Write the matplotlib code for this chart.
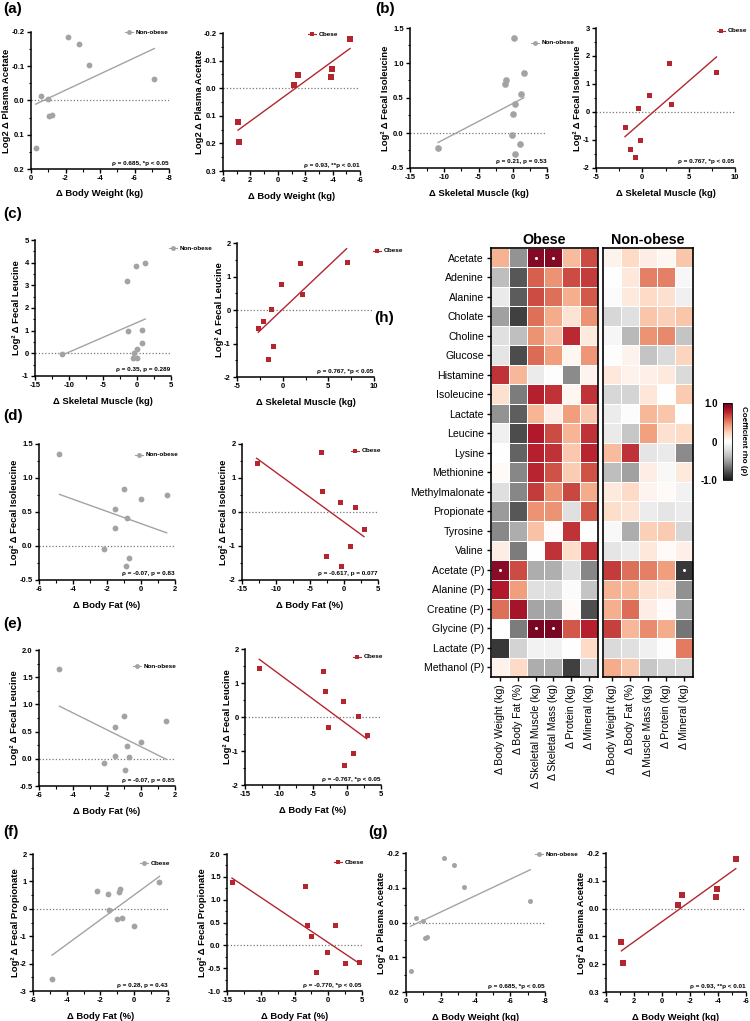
import numpy as np
import matplotlib as mpl
mpl.use('Agg')
import matplotlib.pyplot as plt
from matplotlib.ticker import MultipleLocator, AutoMinorLocator, FormatStrFormatter
from matplotlib.lines import Line2D

plt.rcParams['font.family'] = ['Liberation Sans', 'DejaVu Sans']
plt.rcParams['axes.unicode_minus'] = False

GRAY = '#a3a3a3'
RED = '#b3262e'

# ---- scatter data ----
# (a) / (g)  body weight vs plasma acetate
bw_non = [-0.27, -0.58, -1.0, -1.07, -1.19, -2.17, -2.77, -3.36, -7.15]
acet_non = [0.139, -0.014, -0.005, 0.046, 0.041, -0.185, -0.165, -0.103, -0.062]
bw_obe = [2.9, 2.8, -1.17, -1.46, -3.86, -3.96, -5.27]
acet_obe = [0.121, 0.195, -0.012, -0.049, -0.042, -0.069, -0.178]

# (b) skeletal muscle vs fecal isoleucine
sm_non_b = [-10.9, 0.2, -1.0, -1.15, 1.6, 1.2, 0.35, 0.1, -0.1, 1.05, 0.3]
iso_non_b = [-0.21, 1.35, 0.76, 0.70, 0.85, 0.56, 0.42, 0.27, -0.03, -0.16, -0.30]
sm_obe_b = [-1.87, -1.37, -0.76, -0.25, -0.47, 0.75, 2.87, 3.09, 8.0]
iso_obe_b = [-0.52, -1.31, -1.6, -1.01, 0.13, 0.62, 1.76, 0.3, 1.44]

# (c) skeletal muscle vs fecal leucine
sm_non_c = [-11.0, -1.5, -0.1, 1.2, -1.3, 0.7, 0.75, 0.0, -0.4, -0.6, 0.0]
leu_non_c = [-0.05, 3.2, 3.87, 4.0, 1.0, 1.05, 0.45, 0.2, 0.0, -0.2, -0.2]
sm_obe_c = [-2.67, -2.2, -1.33, -1.1, -1.66, -0.14, 1.9, 2.1, 7.0]
leu_obe_c = [-0.55, -0.32, 0.03, -1.07, -1.46, 0.77, 1.39, 0.47, 1.44]

# (d) body fat vs fecal isoleucine
bf_non_d = [-4.8, -1.53, -1.02, 0.0, 1.51, -0.8, -1.51, -2.19, -0.71, -0.9]
iso_non_d = [1.35, 0.55, 0.84, 0.69, 0.75, 0.41, 0.27, -0.04, -0.17, -0.29]
bf_obe_d = [-12.84, -3.43, -3.28, -0.59, 1.62, 2.94, 0.88, -2.65, -0.4]
iso_obe_d = [1.45, 1.77, 0.63, 0.30, 0.16, -0.5, -1.0, -1.29, -1.59]

# (e) body fat vs fecal leucine
bf_non_e = [-4.8, -1.0, -1.51, 1.49, 0.0, -0.82, -1.51, -0.71, -2.19, -0.92]
leu_non_e = [1.65, 0.79, 0.58, 0.70, 0.31, 0.24, 0.06, 0.03, -0.07, -0.21]
bf_obe_e = [-12.9, -3.53, -3.28, -0.63, 1.57, -2.75, 2.9, 0.93, -0.4]
leu_obe_e = [1.43, 1.36, 0.76, 0.47, 0.04, -0.29, -0.54, -1.05, -1.41]

# (f) body fat vs fecal propionate
bf_non_f = [-4.87, -2.2, -1.55, -1.51, -0.92, -0.82, -1.02, -0.72, -0.03, 1.49]
prop_non_f = [-2.57, 0.66, 0.55, -0.04, 0.63, 0.73, -0.39, -0.35, -0.62, 0.99]
bf_obe_f = [-14.26, -3.46, -3.21, -2.62, 0.99, -0.25, 2.47, 4.5, -1.88]
prop_obe_f = [1.38, 1.30, 0.45, 0.21, 0.45, -0.15, -0.39, -0.36, -0.59]

# ---- heatmap data ----
metabolites = ['Acetate', 'Adenine', 'Alanine', 'Cholate', 'Choline', 'Glucose',
               'Histamine', 'Isoleucine', 'Lactate', 'Leucine', 'Lysine',
               'Methionine', 'Methylmalonate', 'Propionate', 'Tyrosine', 'Valine',
               'Acetate (P)', 'Alanine (P)', 'Creatine (P)', 'Glycine (P)',
               'Lactate (P)', 'Methanol (P)']
obese_cols = ['Δ Body Weight (kg)', 'Δ Body Fat (%)', 'Δ Skeletal Muscle (kg)',
              'Δ Skeletal Mass (kg)', 'Δ Protein (kg)', 'Δ Mineral (kg)']
non_cols = ['Δ Body Weight (kg)', 'Δ Body Fat (%)', 'Δ Muscle Mass (kg)',
            'Δ Protein (kg)', 'Δ Mineral (kg)']

obese_rho = [
    [0.35, -0.55, 0.92, 0.92, 0.32, 0.65],
    [-0.38, -0.76, 0.60, 0.45, 0.65, 0.70],
    [-0.14, -0.75, 0.65, 0.55, 0.36, 0.62],
    [-0.50, -0.85, 0.55, 0.37, 0.15, 0.45],
    [-0.20, -0.37, 0.45, 0.30, 0.75, 0.12],
    [-0.17, -0.80, 0.57, 0.42, 0.05, 0.44],
    [0.72, 0.33, -0.13, -0.01, -0.58, 0.06],
    [0.17, -0.64, 0.78, 0.72, 0.05, 0.72],
    [-0.55, -0.74, 0.34, 0.10, 0.42, 0.27],
    [-0.10, -0.80, 0.80, 0.65, 0.34, 0.72],
    [0.00, -0.72, 0.78, 0.72, 0.27, 0.76],
    [0.03, -0.60, 0.76, 0.64, 0.25, 0.64],
    [-0.21, -0.60, 0.70, 0.46, 0.67, 0.37],
    [-0.52, -0.76, 0.45, 0.45, -0.20, 0.61],
    [-0.59, -0.45, 0.29, 0.02, 0.72, 0.00],
    [0.10, -0.64, 0.00, 0.72, 0.18, 0.71],
    [0.90, 0.65, -0.45, -0.44, -0.20, -0.60],
    [0.80, 0.42, -0.20, -0.21, -0.03, -0.35],
    [0.55, 0.83, -0.48, -0.47, 0.03, -0.79],
    [0.00, -0.64, 0.95, 0.95, 0.62, 0.78],
    [-0.88, -0.27, -0.08, -0.08, 0.00, 0.20],
    [0.07, 0.20, -0.45, -0.45, -0.85, -0.27],
]
non_rho = [
    [0.07, 0.20, 0.10, 0.05, 0.28],
    [0.00, 0.13, 0.50, 0.50, -0.05],
    [-0.03, 0.12, 0.20, 0.17, -0.10],
    [-0.25, -0.20, 0.28, 0.24, 0.28],
    [-0.06, -0.40, 0.45, 0.48, -0.35],
    [-0.01, 0.07, -0.35, -0.23, 0.22],
    [0.13, 0.07, 0.08, 0.12, -0.23],
    [-0.25, -0.26, 0.14, 0.00, 0.26],
    [-0.12, -0.02, 0.33, 0.28, 0.00],
    [-0.14, -0.33, 0.41, 0.17, 0.20],
    [0.32, 0.72, -0.17, -0.14, -0.58],
    [-0.38, -0.50, 0.10, -0.04, 0.12],
    [0.12, 0.20, 0.06, 0.03, -0.08],
    [0.18, 0.15, -0.12, -0.17, -0.13],
    [-0.04, -0.45, 0.24, 0.26, -0.25],
    [-0.17, -0.12, 0.13, 0.03, 0.08],
    [0.70, 0.55, 0.50, 0.42, -0.88],
    [0.35, 0.33, 0.16, 0.14, -0.56],
    [0.36, 0.56, 0.10, 0.02, -0.48],
    [0.68, 0.33, 0.47, 0.37, -0.66],
    [-0.23, -0.20, -0.10, -0.01, 0.52],
    [0.37, 0.28, -0.33, -0.25, -0.24],
]
obese_sig = [(0, 2), (0, 3), (16, 0), (19, 2), (19, 3)]
non_sig = [(16, 4)]

W, H = 750, 1021
fig = plt.figure(figsize=(W / 100, H / 100), dpi=100)


def box(l, t, r, b):
    return [l / W, 1 - b / H, (r - l) / W, (b - t) / H]


def fx(x):
    return x / W


def fy(y):
    return 1 - y / H


def legend_mark(x, y, text, color, marker, ms):
    fig.add_artist(Line2D([fx(x - 4), fx(x + 4)], [fy(y), fy(y)], color=color, lw=0.8))
    fig.add_artist(Line2D([fx(x)], [fy(y)], marker=marker, color=color, ms=ms, mew=0))
    fig.text(fx(x + 7), fy(y), text, fontsize=4.6, fontweight='bold', va='center', ha='left')


def scatter_panel(rect, x, y, grp, xlim, ylim, xstep, ystep, yfmt, xlabel, ylabel,
                  stat, leg, ms):
    ax = fig.add_axes(box(*rect))
    wpx = rect[2] - rect[0]
    hpx = rect[3] - rect[1]
    color = GRAY if grp == 'non' else RED
    marker = 'o' if grp == 'non' else 's'
    ax.plot(x, y, ls='none', marker=marker, ms=ms, color=color, mew=0, zorder=3,
            clip_on=False)
    k, b0 = np.polyfit(x, y, 1)
    xx = np.array([min(x), max(x)])
    ax.plot(xx, k * xx + b0, color=color, lw=1.0, zorder=2)
    ax.axhline(0, color='#7a7a7a', ls=(0, (1, 1.6)), lw=0.9, zorder=1)
    ax.set_xlim(*xlim)
    ax.set_ylim(*ylim)
    ax.xaxis.set_major_locator(MultipleLocator(xstep))
    ax.yaxis.set_major_locator(MultipleLocator(ystep))
    ax.xaxis.set_minor_locator(AutoMinorLocator(2))
    ax.yaxis.set_minor_locator(AutoMinorLocator(2))
    ax.yaxis.set_major_formatter(FormatStrFormatter(yfmt))
    ax.xaxis.set_major_formatter(FormatStrFormatter('%d'))
    for s in ['top', 'right']:
        ax.spines[s].set_visible(False)
    for s in ['left', 'bottom']:
        ax.spines[s].set_linewidth(1.1)
    ax.tick_params(which='major', length=3, width=1.0, labelsize=5.5, pad=1.5)
    ax.tick_params(which='minor', length=1.8, width=0.8)
    for lab in ax.get_xticklabels() + ax.get_yticklabels():
        lab.set_fontweight('bold')
    ax.set_xlabel(xlabel, fontsize=6.8, fontweight='bold')
    ax.xaxis.label.set_va('center')
    ax.xaxis.set_label_coords(0.5, -25 / hpx)
    ax.set_ylabel(ylabel, fontsize=6.8, fontweight='bold')
    ax.yaxis.label.set_va('center')
    # label sits further out when tick labels carry a decimal
    off = 24 if '.1' in yfmt else 18
    ax.yaxis.set_label_coords(-off / wpx, 0.5)
    ax.text(0.995, 6 / hpx, stat, transform=ax.transAxes, ha='right', va='center',
            fontsize=4.6, fontweight='bold')
    if leg is not None:
        legend_mark(leg[0], leg[1], leg[2], color, marker, 3.5)
    return ax


L2 = 'Log² Δ '
# (a)
scatter_panel((31, 32, 169, 169), bw_non, acet_non, 'non', (0, -8), (0.2, -0.2), 2, 0.1,
              '%.1f', 'Δ Body Weight (kg)', 'Log2 Δ Plasma Acetate',
              'ρ = 0.685, *p < 0.05', (129, 32, 'Non-obese'), 4.2)
scatter_panel((223, 33, 360, 171), bw_obe, acet_obe, 'obe', (4, -6), (0.3, -0.2), 2, 0.1,
              '%.1f', 'Δ Body Weight (kg)', 'Log2 Δ Plasma Acetate',
              'ρ = 0.93, **p < 0.01', (312, 34, 'Obese'), 4.8)
# (b)
scatter_panel((410, 28, 547, 168), sm_non_b, iso_non_b, 'non', (-15, 5), (-0.5, 1.5), 5, 0.5,
              '%.1f', 'Δ Skeletal Muscle (kg)', L2 + 'Fecal Isoleucine',
              'ρ = 0.21, p = 0.53', (535, 43, 'Non-obese'), 4.8)
scatter_panel((596, 28, 735, 168), sm_obe_b, iso_obe_b, 'obe', (-5, 10), (-2, 3), 5, 1,
              '%d', 'Δ Skeletal Muscle (kg)', L2 + 'Fecal Isoleucine',
              'ρ = 0.767, *p < 0.05', (721, 31, 'Obese'), 3.6)
# (c)
scatter_panel((35, 240, 171, 376), sm_non_c, leu_non_c, 'non', (-15, 5), (-1, 5), 5, 1,
              '%d', 'Δ Skeletal Muscle (kg)', L2 + 'Fecal Leucine',
              'ρ = 0.35, p = 0.289', (173, 248, 'Non-obese'), 4.2)
scatter_panel((237, 243, 374, 377), sm_obe_c, leu_obe_c, 'obe', (-5, 10), (-2, 2), 5, 1,
              '%d', 'Δ Skeletal Muscle (kg)', L2 + 'Fecal Leucine',
              'ρ = 0.767, *p < 0.05', (377, 251, 'Obese'), 3.6)
# (d)
scatter_panel((39, 444, 175, 580), bf_non_d, iso_non_d, 'non', (-6, 2), (-0.5, 1.5), 2, 0.5,
              '%.1f', 'Δ Body Fat (%)', L2 + 'Fecal Isoleucine',
              'ρ = -0.07, p = 0.83', (139, 455, 'Non-obese'), 4.2)
scatter_panel((242, 444, 378, 580), bf_obe_d, iso_obe_d, 'obe', (-15, 5), (-2, 2), 5, 1,
              '%d', 'Δ Body Fat (%)', L2 + 'Fecal Isoleucine',
              'ρ = -0.617, p = 0.077', (355, 451, 'Obese'), 3.6)
# (e)
scatter_panel((39, 650, 175, 786), bf_non_e, leu_non_e, 'non', (-6, 2), (-0.5, 2.0), 2, 0.5,
              '%.1f', 'Δ Body Fat (%)', L2 + 'Fecal Leucine',
              'ρ = -0.07, p = 0.85', (137, 666, 'Non-obese'), 4.2)
scatter_panel((245, 649, 381, 785), bf_obe_e, leu_obe_e, 'obe', (-15, 5), (-2, 2), 5, 1,
              '%d', 'Δ Body Fat (%)', L2 + 'Fecal Leucine',
              'ρ = -0.767, *p < 0.05', (357, 657, 'Obese'), 3.6)
# (f)
scatter_panel((33, 854, 168, 991), bf_non_f, prop_non_f, 'non', (-6, 2), (-3, 2), 2, 1,
              '%d', 'Δ Body Fat (%)', L2 + 'Fecal Propionate',
              'ρ = 0.28, p = 0.43', (144, 863, 'Obese'), 4.2)
scatter_panel((227, 854, 362, 991), bf_obe_f, prop_obe_f, 'obe', (-15, 5), (-1.0, 2.0), 5, 0.5,
              '%.1f', 'Δ Body Fat (%)', L2 + 'Fecal Propionate',
              'ρ = -0.770, *p < 0.05', (338, 862, 'Obese'), 3.6)
# (g)
scatter_panel((406, 853, 545, 992), bw_non, acet_non, 'non', (0, -8), (0.2, -0.2), 2, 0.1,
              '%.1f', 'Δ Body Weight (kg)', L2 + 'Plasma Acetate',
              'ρ = 0.685, *p < 0.05', (539, 854, 'Non-obese'), 3.6)
scatter_panel((606, 853, 746, 992), bw_obe, acet_obe, 'obe', (4, -6), (0.3, -0.2), 2, 0.1,
              '%.1f', 'Δ Body Weight (kg)', L2 + 'Plasma Acetate',
              'ρ = 0.93, **p < 0.01', None, 4.8)

# panel letters
for lab, x, y in [('(a)', 3, 2), ('(b)', 375, 2), ('(c)', 3, 207), ('(d)', 3, 409),
                  ('(e)', 3, 617), ('(f)', 3, 825), ('(g)', 368, 825), ('(h)', 374, 311)]:
    fig.text(fx(x), fy(y), lab, fontsize=11, fontweight='bold', va='top', ha='left')

# ---- heatmap (h) ----
cmap = plt.get_cmap('RdGy_r')
nrow = len(metabolites)


def heat(rect, data, cols, sig, title, ylabels):
    ax = fig.add_axes(box(*rect))
    arr = np.array(data)
    m = ax.pcolormesh(arr, cmap=cmap, vmin=-1, vmax=1, edgecolors='white', linewidth=0.6)
    ax.set_xlim(0, arr.shape[1])
    ax.set_ylim(nrow, 0)
    for r, c in sig:
        ax.plot(c + 0.5, r + 0.5, 'o', color='white', ms=2.2, mew=0)
    ax.set_xticks(np.arange(arr.shape[1]) + 0.5)
    ax.set_xticklabels(cols, rotation=90, fontsize=7.6)
    ax.set_yticks(np.arange(nrow) + 0.5)
    if ylabels:
        ax.set_yticklabels(metabolites, fontsize=7.6)
        ax.tick_params(axis='y', length=3, width=1.0, pad=2)
    else:
        ax.set_yticklabels([])
        ax.tick_params(axis='y', length=0)
    ax.tick_params(axis='x', length=3, width=1.0, pad=2)
    for s in ax.spines.values():
        s.set_linewidth(1.2)
        s.set_color('black')
    ax.set_title(title, fontsize=10.3, fontweight='bold', pad=3)
    return m


mesh = heat((491, 248, 598, 677), obese_rho, obese_cols, obese_sig, 'Obese', True)
heat((603, 248, 693, 677), non_rho, non_cols, non_sig, 'Non-obese', False)

cax = fig.add_axes(box(723, 403, 732, 480))
cb = fig.colorbar(mesh, cax=cax)
cb.set_ticks([-1, 0, 1])
cb.set_ticklabels(['-1.0', '0', '1.0'])
cax.yaxis.set_ticks_position('left')
cax.tick_params(length=0, labelsize=7, pad=4)
for lab in cax.get_yticklabels():
    lab.set_fontweight('bold')
cb.outline.set_linewidth(0.6)
fig.text(fx(743), fy(441), 'Coefficient rho (ρ)', rotation=270, fontsize=5.8,
         fontweight='bold', ha='center', va='center')

fig.savefig('out.png', dpi=100)
plt.close('all')
